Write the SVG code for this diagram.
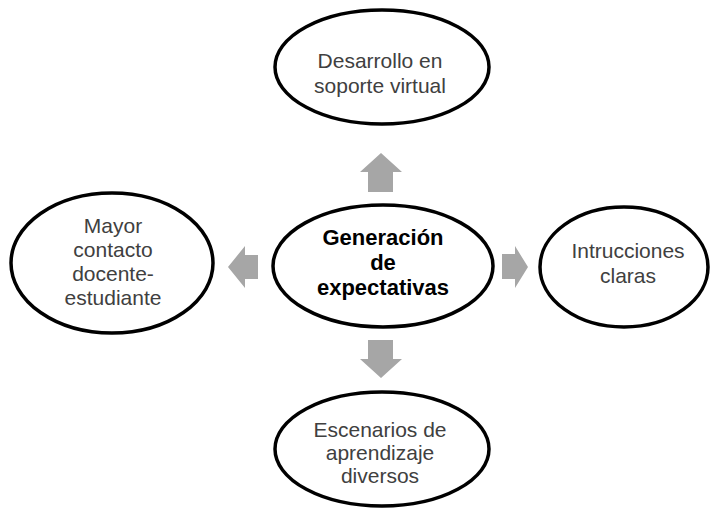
<svg xmlns="http://www.w3.org/2000/svg" width="710" height="512" viewBox="0 0 710 512">
<style>
.n{fill:#fff;stroke:#000;stroke-width:3.5}
.t{font-family:"Liberation Sans",Arial,sans-serif;font-size:21px;fill:#404040;text-anchor:middle}
.b{font-family:"Liberation Sans",Arial,sans-serif;font-size:22px;font-weight:bold;fill:#000;text-anchor:middle}
.a{fill:#a6a6a6}
</style>
<rect width="710" height="512" fill="#fff"/>
<g id="connectors">
<polygon class="a" points="381,153 402,172 393,172 393,192 368,192 368,172 360,172"/>
<polygon class="a" points="381,378 402,359 393,359 393,340 368,340 368,359 360,359"/>
<polygon class="a" points="228,267 245,246 245,255 258,255 258,279 245,279 245,288"/>
<polygon class="a" points="528,267 515,246 515,254 502,254 502,279 515,279 515,288"/>
</g>
<g id="center">
<ellipse class="n" cx="383" cy="266" rx="110" ry="61"/>
<text class="b" x="383" y="245">Generación</text>
<text class="b" x="383" y="270">de</text>
<text class="b" x="383" y="295">expectativas</text>
</g>
<g id="top">
<ellipse class="n" cx="382" cy="67" rx="107" ry="57"/>
<text class="t" x="380" y="68">Desarrollo en</text>
<text class="t" x="380" y="93">soporte virtual</text>
</g>
<g id="left">
<ellipse class="n" cx="112" cy="263" rx="101" ry="70"/>
<text class="t" x="113" y="233">Mayor</text>
<text class="t" x="113" y="257">contacto</text>
<text class="t" x="113" y="281">docente-</text>
<text class="t" x="113" y="305">estudiante</text>
</g>
<g id="right">
<ellipse class="n" cx="624" cy="267" rx="84" ry="60"/>
<text class="t" x="628" y="258">Intrucciones</text>
<text class="t" x="628" y="283">claras</text>
</g>
<g id="bottom">
<ellipse class="n" cx="382" cy="449" rx="107" ry="57"/>
<text class="t" x="380" y="437">Escenarios de</text>
<text class="t" x="380" y="460">aprendizaje</text>
<text class="t" x="380" y="483">diversos</text>
</g>
</svg>
